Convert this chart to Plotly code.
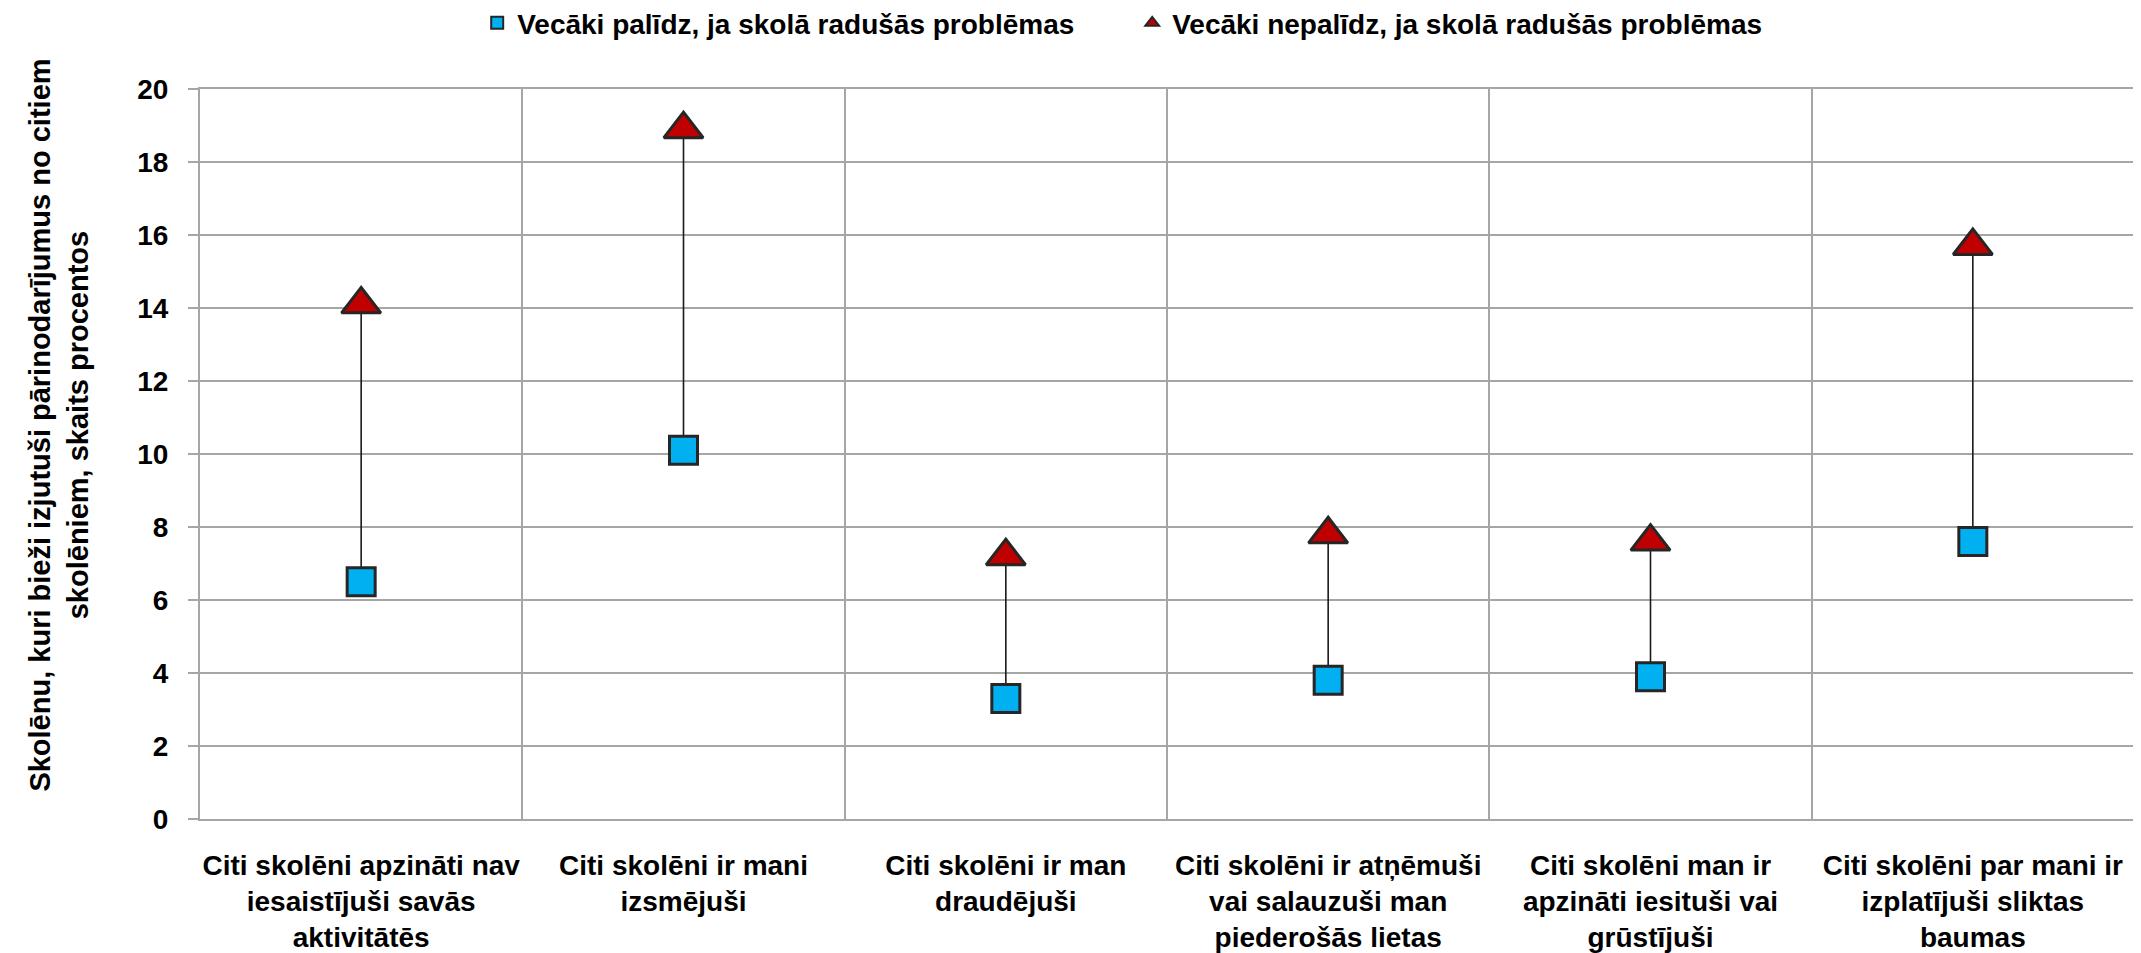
import plotly.graph_objects as go

kategorijas = [
    "Citi skolēni apzināti nav<br>iesaistījuši savās<br>aktivitātēs",
    "Citi skolēni ir mani<br>izsmējuši",
    "Citi skolēni ir man<br>draudējuši",
    "Citi skolēni ir atņēmuši<br>vai salauzuši man<br>piederošās lietas",
    "Citi skolēni man ir<br>apzināti iesituši vai<br>grūstījuši",
    "Citi skolēni par mani ir<br>izplatījuši sliktas<br>baumas",
]
palidz = [6.5, 10.1, 3.3, 3.8, 3.9, 7.6]
nepalidz = [14.1, 18.9, 7.2, 7.8, 7.6, 15.7]

nosaukumi = [
    "Vecāki palīdz, ja skolā radušās problēmas",
    "Vecāki nepalīdz, ja skolā radušās problēmas",
]
y_nosaukums = "Skolēnu, kuri bieži izjutuši pārinodarījumus no citiem<br>skolēniem, skaits procentos"

FONTS = "Liberation Sans, Arial, sans-serif"
GRID = "#A6A6A6"

# high-low lines
lx, ly = [], []
for k, a, b in zip(kategorijas, palidz, nepalidz):
    lx += [k, k, None]
    ly += [a, b, None]

fig = go.Figure()
fig.add_trace(go.Scatter(
    x=lx, y=ly, mode="lines", line=dict(color="#1a1a1a", width=1.6),
    showlegend=False, hoverinfo="skip",
))
fig.add_trace(go.Scatter(
    x=kategorijas, y=palidz, mode="markers", name=nosaukumi[0],
    marker=dict(symbol="square", size=28, color="#00B0F0",
                line=dict(color="#262626", width=3)),
))
fig.add_trace(go.Scatter(
    x=kategorijas, y=nepalidz, mode="markers", name=nosaukumi[1],
    marker=dict(symbol="triangle-up", size=34, color="#C00000",
                line=dict(color="#262626", width=3)),
))

# page body has an 8px margin, so the figure is a bit smaller than the window
fig.update_layout(
    width=2133, height=945,
    margin=dict(l=192, r=7, t=81, b=134, autoexpand=False),
    plot_bgcolor="white", paper_bgcolor="white",
    font=dict(family=FONTS, size=27, color="black"),
    legend=dict(
        orientation="h", x=0.482, xanchor="center",
        yref="container", y=0.984, yanchor="middle",
        font=dict(size=28, family=FONTS, weight="bold"),
        itemsizing="constant", entrywidth=610, entrywidthmode="pixels",
    ),
)
fig.add_annotation(
    text=y_nosaukums, textangle=-90, showarrow=False,
    xref="paper", yref="paper", x=-0.073, y=0.54,
    xanchor="center", yanchor="middle",
    font=dict(size=29, family=FONTS, weight="bold"),
)
fig.update_xaxes(
    type="category", tickson="boundaries", range=[-0.5, 5.5],
    showgrid=True, gridcolor=GRID, gridwidth=1.5, automargin=False,
    showline=True, linecolor=GRID, linewidth=2, mirror=True,
    ticks="", ticklabelstandoff=20, tickangle=0,
    tickfont=dict(size=28, family=FONTS, weight="bold"),
)
fig.update_yaxes(
    range=[0, 20], dtick=2, showgrid=True, automargin=False,
    gridcolor=GRID, gridwidth=1.5,
    showline=True, linecolor=GRID, linewidth=2,
    ticks="outside", ticklen=10, tickcolor=GRID, tickwidth=1.5,
    ticklabelstandoff=14, zeroline=False,
    tickfont=dict(size=28, family=FONTS, weight="bold"),
)

fig.write_html("out.html")
